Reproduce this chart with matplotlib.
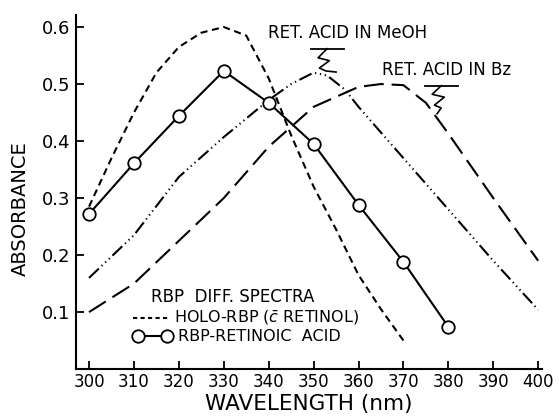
import matplotlib
matplotlib.use("Agg")
import matplotlib.pyplot as plt

# wavelength (nm) and absorbance
holo_x = [300, 305, 310, 315, 320, 325, 330, 335, 340, 345, 350, 355, 360, 365, 370]
holo_y = [0.285, 0.37, 0.45, 0.52, 0.565, 0.59, 0.60, 0.585, 0.51, 0.41, 0.32, 0.245, 0.165, 0.105, 0.05]

acid_x = [300, 310, 320, 330, 340, 350, 360, 370, 380]
acid_y = [0.272, 0.361, 0.444, 0.523, 0.467, 0.395, 0.288, 0.188, 0.074]

meoh_x = [300, 310, 320, 330, 340, 345, 350, 353, 357, 360, 370, 380, 390, 400]
meoh_y = [0.16, 0.235, 0.337, 0.407, 0.472, 0.50, 0.52, 0.515, 0.49, 0.46, 0.37, 0.28, 0.19, 0.104]

bz_x = [300, 310, 320, 330, 340, 350, 360, 365, 370, 375, 380, 390, 400]
bz_y = [0.10, 0.15, 0.225, 0.30, 0.39, 0.46, 0.495, 0.50, 0.498, 0.467, 0.413, 0.30, 0.19]

xticks = [300, 310, 320, 330, 340, 350, 360, 370, 380, 390, 400]
yticks = [0.1, 0.2, 0.3, 0.4, 0.5, 0.6]

plt.rcParams["font.family"] = "DejaVu Sans"

fig = plt.figure(figsize=(5.59, 4.18), dpi=100)
ax = fig.add_axes([0.136, 0.117, 0.834, 0.847])

lw = 1.5
ax.plot(holo_x, holo_y, color="black", lw=lw, linestyle=(0, (3.4, 2.2)))
ax.plot(meoh_x, meoh_y, color="black", lw=lw,
        linestyle=(0, (6.5, 1.8, 0.6, 1.8, 0.6, 1.8, 0.6, 1.8)))
ax.plot(bz_x, bz_y, color="black", lw=lw, linestyle=(0, (9.5, 3.8)))
ax.plot(acid_x, acid_y, color="black", lw=lw, marker="o", ms=9,
        mfc="white", mec="black", mew=1.3)

ax.set_xlim(297.1, 400.9)
ax.set_ylim(0, 0.621)
ax.set_xticks(xticks)
ax.set_xticklabels([str(t) for t in xticks], fontsize=12)
ax.set_yticks(yticks)
ax.set_yticklabels([f"{t:.1f}" for t in yticks], fontsize=13)
ax.tick_params(direction="in", length=6, width=1.3, pad=3)
ax.tick_params(axis="y", pad=4)
for s in ["top", "right"]:
    ax.spines[s].set_visible(False)
for s in ["left", "bottom"]:
    ax.spines[s].set_linewidth(1.5)

ax.set_xlabel("WAVELENGTH (nm)", fontsize=15.5, labelpad=2)
ax.set_ylabel("ABSORBANCE", fontsize=14)
ax.yaxis.set_label_coords(-0.1, 0.452)

# curve labels with underline and squiggle pointer
ax.text(339.9, 0.589, "RET. ACID IN MeOH", fontsize=12, ha="left", va="center")
ax.plot([349.5, 356.8], [0.562, 0.562], color="black", lw=1.3)
ax.plot([353.0, 351.0, 353.5, 351.3, 352.7, 355.0],
        [0.562, 0.546, 0.541, 0.528, 0.523, 0.521], color="black", lw=1.2)

ax.text(365.3, 0.525, "RET. ACID IN Bz", fontsize=12, ha="left", va="center")
ax.plot([374.9, 382.1], [0.497, 0.497], color="black", lw=1.3)
ax.plot([378.4, 376.4, 379.1, 376.9, 378.4, 377.5],
        [0.497, 0.482, 0.477, 0.463, 0.458, 0.448], color="black", lw=1.2)

# hand-drawn legend block
ax.text(331.9, 0.126, "RBP  DIFF. SPECTRA", fontsize=12, ha="center", va="center")
ax.plot([309.8, 318.0], [0.089, 0.089], color="black", lw=lw, linestyle=(0, (2.0, 1.6)))
ax.text(318.9, 0.089, "HOLO-RBP ($\\bar{c}$ RETINOL)", fontsize=11.5, ha="left", va="center")
ax.plot([311.0, 317.4], [0.058, 0.058], color="black", lw=lw, marker="o", ms=9,
        mfc="white", mec="black", mew=1.3)
ax.text(319.8, 0.058, "RBP-RETINOIC  ACID", fontsize=11.5, ha="left", va="center")

fig.savefig("out.png", dpi=100)
